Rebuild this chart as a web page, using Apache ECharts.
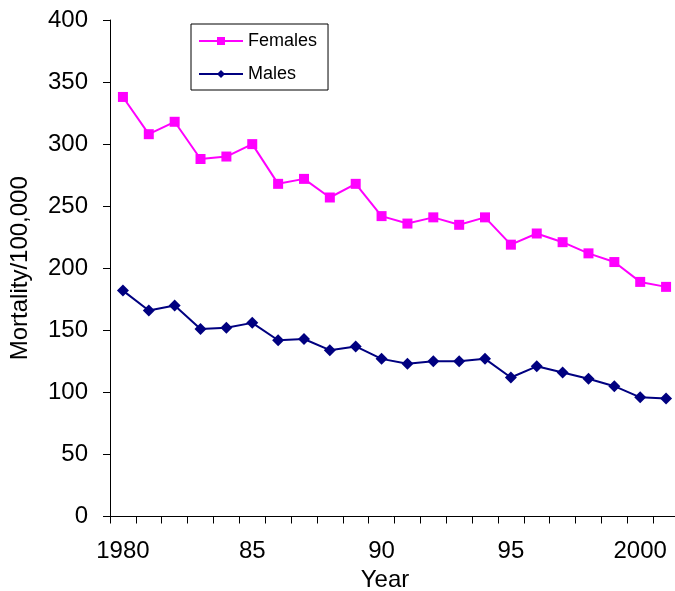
<!DOCTYPE html>
<html>
<head>
<meta charset="utf-8">
<script src="https://cdn.jsdelivr.net/npm/echarts@6/dist/echarts.min.js"></script>
<style>html,body{margin:0;padding:0;background:#fff;}#c{width:675px;height:591px;}</style>
</head>
<body>
<div id="c"></div>
<script>
const years = ['1980','1981','1982','1983','1984','1985','1986','1987','1988','1989','1990','1991','1992','1993','1994','1995','1996','1997','1998','1999','2000','2001'];
const tickLabels = {'1980':'1980','1985':'85','1990':'90','1995':'95','2000':'2000'};
const females = [338,308,318,288,290,300,268,272,257,268,242,236,241,235,241,219,228,221,212,205,189,185];
const males = [182,166,170,151,152,156,142,143,134,137,127,123,125,125,127,112,121,116,111,105,96,95];

const FONT = '"Liberation Sans", Arial, sans-serif';
const chart = echarts.init(document.getElementById('c'), null, {renderer: 'canvas'});
chart.setOption({
  animation: false,
  backgroundColor: '#fff',
  textStyle: {fontFamily: FONT},
  legend: {
    orient: 'vertical',
    left: 191, top: 24,
    padding: [8, 11, 7, 7],
    itemWidth: 44, itemHeight: 10, itemGap: 15,
    borderColor: '#000', borderWidth: 1,
    textStyle: {fontFamily: FONT, fontSize: 18, color: '#000', lineHeight: 16},
    data: ['Females', 'Males']
  },
  grid: {left: 110, top: 20, width: 569, height: 496.5, containLabel: false, outerBoundsMode: 'none'},
  xAxis: {
    type: 'category',
    data: years,
    boundaryGap: true,
    name: 'Year',
    nameLocation: 'middle',
    nameGap: 50,
    nameTextStyle: {fontFamily: FONT, fontSize: 24, color: '#000', padding: [0, 19, 0, 0]},
    axisLine: {lineStyle: {color: '#000', width: 1}},
    axisTick: {show: true, interval: 0, length: 7, lineStyle: {color: '#000'}},
    axisLabel: {
      interval: function (i, v) { return tickLabels[v] !== undefined; },
      formatter: function (v) { return tickLabels[v] || ''; },
      fontFamily: FONT, fontSize: 24, color: '#000', margin: 23
    },
    splitLine: {show: false}
  },
  yAxis: {
    type: 'value',
    min: 0, max: 400, interval: 50,
    name: 'Mortality/100,000',
    nameLocation: 'middle',
    nameGap: 78,
    nameTextStyle: {fontFamily: FONT, fontSize: 24, color: '#000'},
    axisLine: {show: true, lineStyle: {color: '#000', width: 1}},
    axisTick: {show: true, length: 7, lineStyle: {color: '#000'}},
    axisLabel: {fontFamily: FONT, fontSize: 24, color: '#000', margin: 22},
    splitLine: {show: false}
  },
  series: [
    {
      name: 'Females', type: 'line', data: females,
      symbol: 'rect', symbolSize: 10,
      itemStyle: {color: '#FF00FF'},
      lineStyle: {color: '#FF00FF', width: 2}
    },
    {
      name: 'Males', type: 'line', data: males,
      symbol: 'diamond', symbolSize: 12,
      itemStyle: {color: '#000080'},
      lineStyle: {color: '#000080', width: 2}
    }
  ]
});
</script>
</body>
</html>
